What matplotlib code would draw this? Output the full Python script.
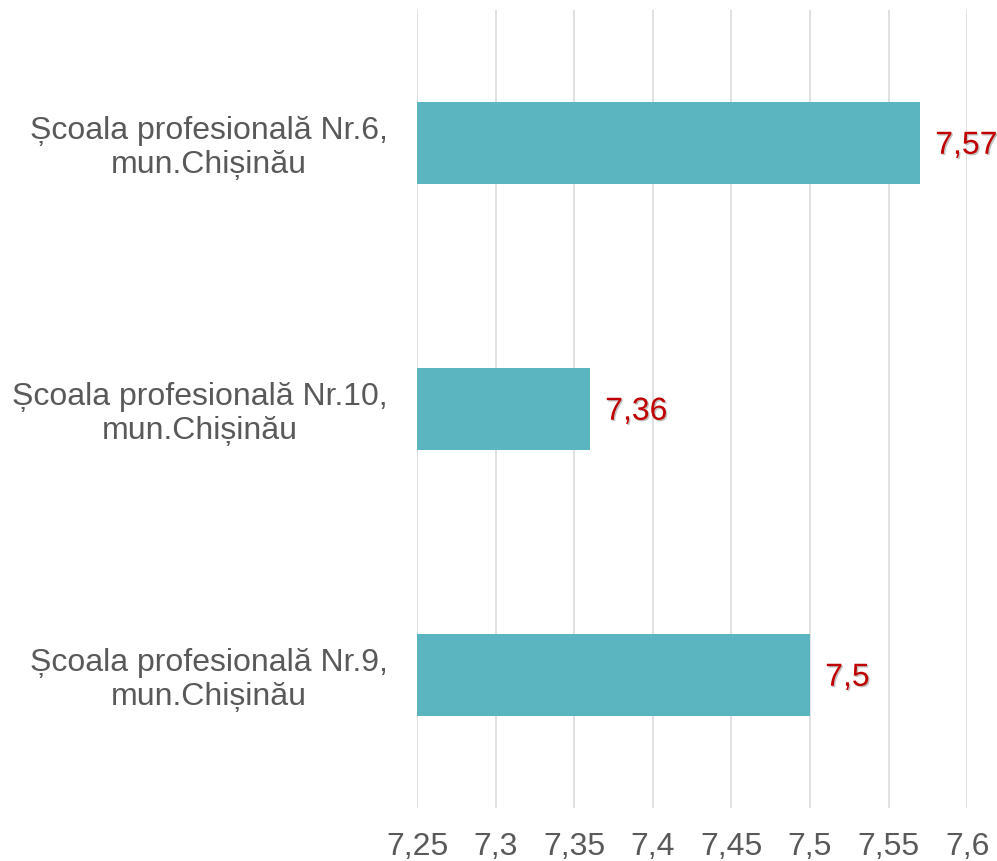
import numpy as np
import matplotlib.pyplot as plt
import matplotlib.patheffects as pe

plt.rcParams['font.family'] = ['Liberation Sans', 'DejaVu Sans']

# date
schools = ["Școala profesională Nr.6,\nmun.Chișinău",
           "Școala profesională Nr.10,\nmun.Chișinău",
           "Școala profesională Nr.9,\nmun.Chișinău"]
scores = [7.57, 7.36, 7.5]
score_labels = ["7,57", "7,36", "7,5"]
ticks = [7.25, 7.3, 7.35, 7.4, 7.45, 7.5, 7.55, 7.6]
tick_labels = ["7,25", "7,3", "7,35", "7,4", "7,45", "7,5", "7,55", "7,6"]

fig = plt.figure(figsize=(9.97, 8.61), dpi=100)
ax = fig.add_axes([0.4183, 0.0616, 0.5517, 0.9268])

y = np.arange(len(schools))
base = ticks[0]
ax.barh(y, np.array(scores) - base, left=base, height=0.31, color="#5AB5C0", zorder=2)

for yi, v, s in zip(y, scores, score_labels):
    ax.annotate(s, (v, yi), xytext=(11, -2), textcoords="offset points",
                va="center", ha="left", fontsize=23, color="#C00000",
                path_effects=[pe.SimplePatchShadow(offset=(1, -1), shadow_rgbFace="#999999", alpha=0.6),
                              pe.Normal()],
                annotation_clip=False, zorder=3)

ax.set_xlim(7.25, 7.6)
ax.set_ylim(2.5, -0.5)
ax.set_xticks(ticks)
ax.set_xticklabels(tick_labels, fontsize=23)
ax.set_yticks(y)
ax.set_yticklabels(schools, multialignment="center", fontsize=23, linespacing=1.15)
ax.tick_params(axis="both", length=0, labelcolor="#595959")
ax.tick_params(axis="x", pad=17)
ax.tick_params(axis="y", pad=21)
ax.xaxis.grid(True, color="#D9D9D9", linewidth=1.1, zorder=0)
ax.set_axisbelow(True)
for sp in ax.spines.values():
    sp.set_visible(False)

plt.savefig("out.png", dpi=100)
